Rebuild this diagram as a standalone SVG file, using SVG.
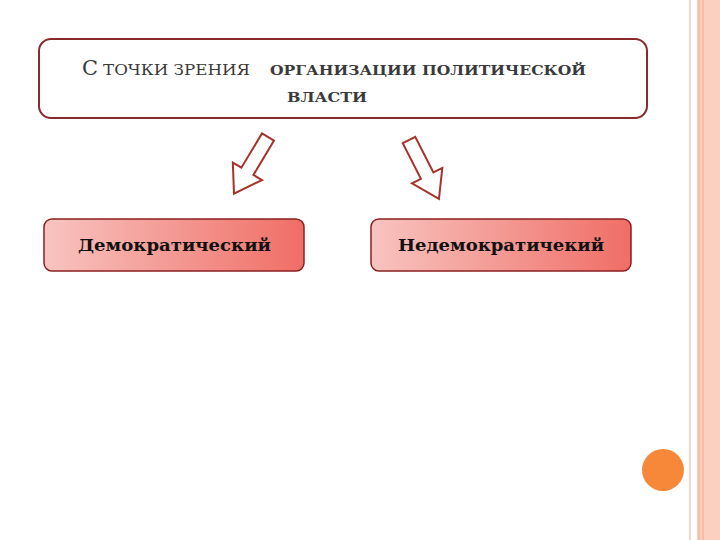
<svg xmlns="http://www.w3.org/2000/svg" width="720" height="540" viewBox="0 0 720 540">
<defs>
<linearGradient id="g" x1="0" y1="0" x2="1" y2="0"><stop offset="0" stop-color="#f8c4c0"/><stop offset="1" stop-color="#ef6e66"/></linearGradient>
<polygon id="arr" points="-7,0 7,0 7,40 17,40 0,66 -17,40 -7,40"/>
</defs>
<style>
.t{font-family:"DejaVu Serif","Liberation Serif",serif;fill:#3a3a3a}
.b{font-family:"DejaVu Serif","Liberation Serif",serif;font-weight:bold;font-size:16px;fill:#111}
.n{fill:url(#g);stroke:#8a2020;stroke-width:1.5}
.a{fill:#fff;stroke:#a8322a;stroke-width:2}
</style>
<rect width="720" height="540" fill="#fff"/>
<rect x="697" y="0" width="23" height="540" fill="#fcd0c0"/>
<line x1="690" y1="0" x2="690" y2="540" stroke="#f0c8b8" stroke-width="1.5"/>
<line x1="699" y1="0" x2="699" y2="540" stroke="#f4a888" stroke-width="1"/>
<line x1="703" y1="0" x2="703" y2="540" stroke="#f4a888" stroke-width="1"/>
<circle cx="663" cy="470" r="21" fill="#f7883a"/>
<g id="top">
<rect x="39" y="39" width="608" height="79" rx="12" fill="#fff" stroke="#8a2a2a" stroke-width="2"/>
<text class="t" x="82" y="75" font-size="21">С</text>
<text class="t" x="103" y="75" font-size="14" textLength="147" lengthAdjust="spacingAndGlyphs">ТОЧКИ ЗРЕНИЯ</text>
<text class="t" x="270" y="75" font-size="13" font-weight="bold" textLength="316" lengthAdjust="spacingAndGlyphs">ОРГАНИЗАЦИИ ПОЛИТИЧЕСКОЙ</text>
<text class="t" x="287" y="102" font-size="13" font-weight="bold" textLength="80" lengthAdjust="spacingAndGlyphs">ВЛАСТИ</text>
</g>
<g id="connectors">
<use href="#arr" class="a" transform="translate(268,137) rotate(31)"/>
<use href="#arr" class="a" transform="translate(409,140) rotate(-27)"/>
</g>
<g id="n1"><rect class="n" x="44" y="219" width="260" height="52" rx="8"/><text class="b" x="78" y="251" textLength="193" lengthAdjust="spacingAndGlyphs">Демократический</text></g>
<g id="n2"><rect class="n" x="371" y="219" width="260" height="52" rx="8"/><text class="b" x="398" y="251" textLength="206" lengthAdjust="spacingAndGlyphs">Недемократичекий</text></g>
</svg>
